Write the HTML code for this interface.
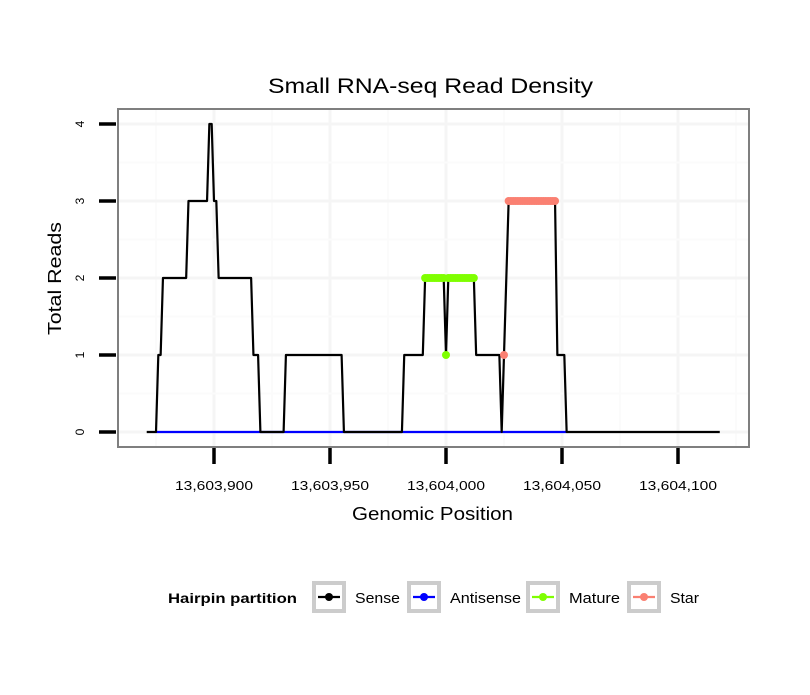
<!DOCTYPE html>
<html><head><meta charset="utf-8"><style>
body{margin:0;background:#fff;font-family:"Liberation Sans",sans-serif;}
</style></head><body>
<svg id="chart" width="810" height="690" xmlns="http://www.w3.org/2000/svg">
<rect width="810" height="690" fill="#fff"/>
<text x="268" y="93" font-size="21" textLength="325" lengthAdjust="spacingAndGlyphs">Small RNA-seq Read Density</text>
<g id="grid"></g>
<g id="series"></g>
<rect x="118" y="109" width="631" height="338" fill="none" stroke="#7f7f7f" stroke-width="2"/>
<g id="axes"></g>
<text x="352" y="520" font-size="18" textLength="161" lengthAdjust="spacingAndGlyphs">Genomic Position</text>
<text transform="translate(61,335) rotate(-90)" font-size="18" textLength="113" lengthAdjust="spacingAndGlyphs">Total Reads</text>
<g>
<text x="168" y="603" font-size="14" font-weight="bold" textLength="129" lengthAdjust="spacingAndGlyphs">Hairpin partition</text>
<g id="legend"></g>
</g>
</svg>
<script>
const NS="http://www.w3.org/2000/svg";
const senseX=[13603871,13603875,13603876,13603877,13603878,13603888,13603889,13603897,13603898,13603899,13603900,13603901,13603902,13603916,13603917,13603919,13603920,13603930,13603931,13603955,13603956,13603981,13603982,13603990,13603991,13603999,13604000,13604001,13604012,13604013,13604023,13604024,13604025,13604027,13604047,13604048,13604051,13604052,13604118];
const senseY=[0,0,1,1,2,2,3,3,4,4,3,3,2,2,1,1,0,0,1,1,0,0,1,1,2,2,1,2,2,1,1,0,1,3,3,1,1,0,0];
const antiX=[13603875,13604052];
const antiY=[0,0];
const matureX=[13603991,13603992,13603993,13603994,13603995,13603996,13603997,13603998,13603999,13604000,13604001,13604002,13604003,13604004,13604005,13604006,13604007,13604008,13604009,13604010,13604011,13604012];
const matureY=[2,2,2,2,2,2,2,2,2,1,2,2,2,2,2,2,2,2,2,2,2,2];
const starX=[13604025,13604027,13604028,13604029,13604030,13604031,13604032,13604033,13604034,13604035,13604036,13604037,13604038,13604039,13604040,13604041,13604042,13604043,13604044,13604045,13604046,13604047];
const starY=[1,3,3,3,3,3,3,3,3,3,3,3,3,3,3,3,3,3,3,3,3,3];
const xTicks=[13603900,13603950,13604000,13604050,13604100];
const xTickLabels=["13,603,900","13,603,950","13,604,000","13,604,050","13,604,100"];
const yTicks=[0,1,2,3,4];
const yTickLabels=["0","1","2","3","4"];
const legendLabels=["Sense","Antisense","Mature","Star"];
const legendColors=["#000000","#0000ff","#7fff00","#fa8072"];

const sx=p=>214+(p-13603900)*2.32;
const sy=v=>432-v*77;
function mk(tag,attrs,parent){const e=document.createElementNS(NS,tag);for(const k in attrs)e.setAttribute(k,attrs[k]);parent.appendChild(e);return e;}
const grid=document.getElementById('grid'),series=document.getElementById('series'),axes=document.getElementById('axes'),legend=document.getElementById('legend');
for(let i=-1;i<xTicks.length;i++){
  const p=xTicks[0]+(i+0.5)*50;
  const l=mk('line',{x1:sx(p),x2:sx(p),y1:110,y2:446,stroke:'#fbfbfb','stroke-width':2},grid);
  
}
xTicks.forEach(t=>{const l=mk('line',{x1:sx(t),x2:sx(t),y1:110,y2:446,stroke:'#f5f5f5','stroke-width':3},grid);
  });
for(let v=-0.5;v<=4.5;v+=1){if(sy(v)<110||sy(v)>446)continue;
  const l=mk('line',{x1:119,x2:748,y1:sy(v),y2:sy(v),stroke:'#fbfbfb','stroke-width':2},grid);
  }
yTicks.forEach(t=>{const l=mk('line',{x1:119,x2:748,y1:sy(t),y2:sy(t),stroke:'#f5f5f5','stroke-width':3},grid);
  });
function line(xs,ys,color,name){const pts=xs.map((x,i)=>sx(x)+','+sy(ys[i])).join(' ');
  const e=mk('polyline',{points:pts,fill:'none',stroke:color,'stroke-width':2.2,'stroke-linejoin':'round'},series);
  }
line(antiX,antiY,'#0000ff','antisense-line');
line(senseX,senseY,'#000000','sense-line');
function dots(xs,ys,color,name){xs.forEach((x,i)=>{const c=mk('circle',{cx:sx(x),cy:sy(ys[i]),r:4,fill:color},series);
  });}
dots(matureX,matureY,'#7fff00','mature-point');
dots(starX,starY,'#fa8072','star-point');
xTicks.forEach((t,i)=>{const l=mk('line',{x1:sx(t),x2:sx(t),y1:448,y2:464,stroke:'#000','stroke-width':3.5},axes);
  
  const tx=mk('text',{x:sx(t)-39,y:490,'font-size':13,textLength:78,lengthAdjust:'spacingAndGlyphs'},axes);tx.textContent=xTickLabels[i];
  });
yTicks.forEach((t,i)=>{const l=mk('line',{x1:99,x2:116,y1:sy(t),y2:sy(t),stroke:'#000','stroke-width':3.5},axes);
  
  const tx=mk('text',{transform:`translate(84,${sy(t)}) rotate(-90)`,'font-size':12,'text-anchor':'middle'},axes);tx.textContent=yTickLabels[i];
  });
const lx=[312,407,526,627];
const lw=[45,71,51,29];
legendLabels.forEach((lab,i)=>{const x=lx[i];
  const b=mk('rect',{x:x+2,y:583,width:30,height:28,fill:'#fff',stroke:'#cccccc','stroke-width':4},legend);
  
  mk('line',{x1:x+6,x2:x+28,y1:597,y2:597,stroke:legendColors[i],'stroke-width':2.2},legend);
  mk('circle',{cx:x+17,cy:597,r:4,fill:legendColors[i]},legend);
  const t=mk('text',{x:x+43,y:603,'font-size':15,textLength:lw[i],lengthAdjust:'spacingAndGlyphs'},legend);t.textContent=lab;
  });
</script>
</body></html>
